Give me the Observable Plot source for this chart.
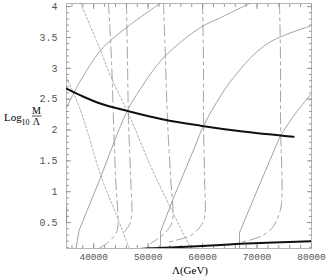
<!DOCTYPE html>
<html>
<head>
<meta charset="utf-8">
<script src="https://cdn.jsdelivr.net/npm/d3@7"></script>
<script src="https://cdn.jsdelivr.net/npm/@observablehq/plot@0.6"></script>
<style>
  html, body { margin: 0; padding: 0; background: #fff; }
  #chart svg { display: block; }
</style>
</head>
<body>
<div id="chart"></div>
<script>
// tick labels
const xTicks = [40000, 50000, 60000, 70000, 80000];
const yTicks = [0.5, 1, 1.5, 2, 2.5, 3, 3.5, 4];

// thick black curves
const thickUpper = [[35000,2.67],[37600,2.56],[41200,2.43],[46150,2.31],[52800,2.17],[59600,2.07],[67000,1.98],[76700,1.89]];
const thickLower = [[47800,0.065],[50400,0.085],[55000,0.10],[63300,0.135],[67000,0.155],[80000,0.197]];

// thin solid curves: steep lower part, then a smooth concave upper part
const solid1 = [[35000,2.36],[37570,2.80],[41250,3.29],[43080,3.45],[46750,3.71],[52300,4.06]];
const solid1b = [[35030,0.50],[35030,0.75]];
const solid2Low = [[36700,0.06],[37300,0.37],[41250,1.23],[43630,1.78]];
const solid2High = [[43630,1.78],[46150,2.31],[48600,2.67],[52800,3.17],[59600,3.66],[63300,3.82],[68800,4.06]];
const solid3Low = [[52270,0.06],[52270,0.35],[54470,0.86],[59060,1.83]];
const solid3High = [[59060,1.83],[60160,2.07],[65670,2.85],[71920,3.40],[80000,3.69]];
const solid4Low = [[66780,0.06],[66780,0.34],[70630,1.15],[74300,1.91]];
const solid4High = [[74300,1.91],[77060,2.27],[80000,2.59]];

// short-dashed curves
const dashed1 = [[37570,4.06],[41250,3.29],[43080,2.88],[46940,2.15],[50430,1.42],[54100,0.74],[57900,0.07]];
const dashed2 = [[35000,2.85],[37570,2.32],[41430,1.23],[44000,0.66],[46570,0.07]];

// dash-dot near-vertical curves
const dashdot1 = [[42710,4.06],[43270,3.13],[43630,2.15],[44000,1.26],[44370,0.40],[43820,0.29],[42350,0.16],[40690,0.07]];
const dashdot2 = [[46020,4.06],[46200,3.13],[46390,2.15],[46760,1.26],[46940,0.58],[46390,0.44],[45290,0.31]];
const dashdot3 = [[52820,4.06],[53180,3.13],[53550,2.15],[54100,1.26],[54470,0.53],[53740,0.40],[52270,0.27],[50430,0.16]];
const dashdot4 = [[59980,4.06],[60160,3.13],[60160,2.15],[60350,1.26],[60350,0.58],[59610,0.44],[57780,0.29],[55390,0.22],[53550,0.18]];
const dashdot5 = [[74120,4.06],[74310,3.13],[74310,2.15],[74490,0.81],[73940,0.61],[72840,0.42],[71000,0.29],[68430,0.21],[66960,0.18]];

const solidStyle = {x: d => d[0], y: d => d[1], stroke: "#8c8c8c", strokeWidth: 0.8, clip: true};
const smoothSolid = {...solidStyle, curve: "catmull-rom"};
const dashStyle = {x: d => d[0], y: d => d[1], stroke: "#999", strokeWidth: 0.8, strokeDasharray: "2,2", curve: "catmull-rom", clip: true};
const dashDotStyle = {x: d => d[0], y: d => d[1], stroke: "#8c8c8c", strokeWidth: 0.8, strokeDasharray: "11,4,3,4", curve: "catmull-rom", clip: true};
const thickStyle = {x: d => d[0], y: d => d[1], stroke: "#111", strokeWidth: 2, curve: "catmull-rom", clip: true};

const xMinor = d3.range(36000, 80001, 2000);
const yMinor = d3.range(1, 41).map(i => +(i / 10).toFixed(1));
const tickColor = "#999";

const chart = Plot.plot({
  width: 327,
  height: 278,
  marginLeft: 66,
  marginRight: 16,
  marginTop: 3,
  marginBottom: 30,
  x: {domain: [35000, 80000]},
  y: {domain: [0.08, 4.05]},
  style: {fontFamily: "Liberation Mono, monospace", color: "#555", background: "#fff"},
  marks: [
    Plot.frame({stroke: "#b5b5b5"}),
    // inward ticks on all four sides
    Plot.axisX({ticks: xMinor, tickSize: -3, fill: "none", stroke: tickColor, label: null}),
    Plot.axisX({ticks: xTicks, tickSize: -5, fill: "none", stroke: tickColor, label: null}),
    Plot.axisX({anchor: "top", ticks: xMinor, tickSize: -3, fill: "none", stroke: tickColor, label: null}),
    Plot.axisX({anchor: "top", ticks: xTicks, tickSize: -5, fill: "none", stroke: tickColor, label: null}),
    Plot.axisY({ticks: yMinor, tickSize: -3, fill: "none", stroke: tickColor, label: null}),
    Plot.axisY({ticks: yTicks, tickSize: -5, fill: "none", stroke: tickColor, label: null}),
    Plot.axisY({anchor: "right", ticks: yMinor, tickSize: -3, fill: "none", stroke: tickColor, label: null}),
    Plot.axisY({anchor: "right", ticks: yTicks, tickSize: -5, fill: "none", stroke: tickColor, label: null}),
    // tick labels
    Plot.axisX({ticks: xTicks, tickSize: 0, tickPadding: 5, tickFormat: d => String(d), fontSize: 9.5, fill: "#555", label: null}),
    Plot.axisY({ticks: yTicks, tickSize: 0, tickPadding: 9, tickFormat: d => String(d), fontSize: 10, fill: "#555", label: null}),
    // curves
    Plot.line(solid1, smoothSolid),
    Plot.line(solid1b, solidStyle),
    Plot.line(solid2Low, solidStyle),
    Plot.line(solid2High, smoothSolid),
    Plot.line(solid3Low, solidStyle),
    Plot.line(solid3High, smoothSolid),
    Plot.line(solid4Low, solidStyle),
    Plot.line(solid4High, smoothSolid),
    Plot.line(dashed1, dashStyle),
    Plot.line(dashed2, dashStyle),
    Plot.line(dashdot1, dashDotStyle),
    Plot.line(dashdot2, dashDotStyle),
    Plot.line(dashdot3, dashDotStyle),
    Plot.line(dashdot4, dashDotStyle),
    Plot.line(dashdot5, dashDotStyle),
    Plot.line(thickUpper, thickStyle),
    Plot.line(thickLower, thickStyle)
  ]
});

document.getElementById("chart").appendChild(chart);

// axis titles (serif, as in the original)
const svg = d3.select(chart);
const g = svg.append("g").attr("font-family", "Liberation Serif, serif").attr("fill", "#000");
g.append("text").attr("x", 4).attr("y", 121).attr("font-size", 11).attr("text-anchor", "start").text("Log");
g.append("text").attr("x", 21.5).attr("y", 125).attr("font-size", 8).attr("text-anchor", "start").text("10");
g.append("text").attr("x", 36.5).attr("y", 113.5).attr("font-size", 10).attr("text-anchor", "middle").text("M");
g.append("line").attr("x1", 32).attr("x2", 41.5).attr("y1", 116).attr("y2", 116).attr("stroke", "#000").attr("stroke-width", 0.7);
g.append("text").attr("x", 36.5).attr("y", 124.5).attr("font-size", 10).attr("text-anchor", "middle").text("Λ");
g.append("text").attr("x", 190).attr("y", 274).attr("font-size", 11).attr("text-anchor", "middle").text("Λ(GeV)");
</script>
</body>
</html>
